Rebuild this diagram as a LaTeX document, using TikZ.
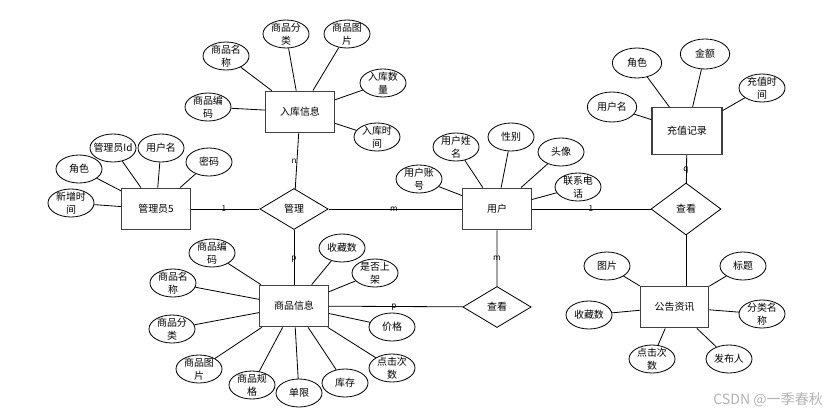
\documentclass[tikz,border=0pt]{standalone}
\usepackage{fontspec}
\setmainfont{Noto Sans CJK SC}
\usepackage{tikz}
\usetikzlibrary{shapes.geometric}

\begin{document}
\begin{tikzpicture}[
    x=0.03cm, y=-0.03cm,
    every node/.style={font=\fontsize{8.5}{11}\selectfont, align=center},
    entity/.style={rectangle, draw=black!75, line width=1pt, minimum width=2.05cm, minimum height=1.25cm, inner sep=0pt},
    relation/.style={diamond, draw, line width=0.7pt, minimum width=2.05cm, minimum height=1.23cm, inner sep=0pt},
    attr/.style={ellipse, draw, line width=0.7pt, minimum width=1.38cm, minimum height=0.84cm, inner sep=-4pt},
    bigattr/.style={attr, minimum width=1.48cm, minimum height=0.9cm},
    card/.style={font=\fontsize{7}{8}\selectfont, inner sep=0pt},
    link/.style={line width=0.7pt}
]
\useasboundingbox (0,0) rectangle (839,416);

\node[entity] (kucun) at (300,112) {入库信息};
\node[attr] (kname) at (226,56) {商品名\\称};
\node[attr] (kcat) at (286,34) {商品分\\类};
\node[attr] (kpic) at (347,34) {商品图\\片};
\node[attr] (knum) at (383,83) {入库数\\量};
\node[attr] (kcode) at (208,107) {商品编\\码};
\node[attr] (ktime) at (377,137) {入库时\\间};

\node[entity] (adm) at (156,209) {管理员5};
\node[attr] (aid) at (113,148) {管理员Id};
\node[attr] (aname) at (161,148) {用户名};
\node[attr] (apwd) at (209,162) {密码};
\node[attr] (arole) at (79,169) {角色};
\node[attr] (atime) at (71,203) {新增时\\间};

\node[relation] (mg) at (294,209) {管理};

\node[entity] (usr) at (497,209) {用户};
\node[attr] (uacc) at (419,179) {用户账\\号};
\node[attr] (uname) at (456,147) {用户姓\\名};
\node[attr] (usex) at (511,137) {性别};
\node[attr] (uhead) at (561,152) {头像};
\node[attr] (utel) at (578,187) {联系电\\话};

\node[relation, minimum width=2.1cm, minimum height=1.56cm] (look1) at (686,209) {查看};

\node[entity, minimum width=2.1cm, minimum height=1.41cm] (charge) at (687,131) {充值记录};
\node[bigattr] (cname) at (612,107) {用户名};
\node[bigattr] (crole) at (637,63) {角色};
\node[bigattr] (cmoney) at (705,54) {金额};
\node[attr] (ctime) at (762,88) {充值时\\间};

\node[entity] (notice) at (674.5,307) {公告资讯};
\node[attr] (npic) at (607,266) {图片};
\node[attr] (ntitle) at (743,266) {标题};
\node[attr] (nfav) at (589,315) {收藏数};
\node[attr] (ncat) at (762,314) {分类名\\称};
\node[attr] (nclick) at (652,359) {点击次\\数};
\node[attr] (nauth) at (729,359) {发布人};

\node[entity] (goods) at (294,306) {商品信息};
\node[attr] (gcode) at (212,253) {商品编\\码};
\node[attr] (gname) at (173,283) {商品名\\称};
\node[attr] (gcat) at (172,329) {商品分\\类};
\node[attr] (gpic) at (199,369) {商品图\\片};
\node[attr] (gspec) at (252,385) {商品规\\格};
\node[attr] (glim) at (299,393) {单限};
\node[attr] (gstock) at (345,383) {库存};
\node[attr] (gclick) at (392,368) {点击次\\数};
\node[attr] (gprice) at (392,327) {价格};
\node[attr] (gshelf) at (375,273) {是否上\\架};
\node[attr] (gfav) at (342,248) {收藏数};

\node[relation] (look2) at (497,307) {查看};

\foreach \a in {kname,kcat,kpic,knum,kcode,ktime}
    \draw[link] (kucun) -- (\a);
\foreach \a in {aid,aname,apwd,arole,atime}
    \draw[link] (adm) -- (\a);
\foreach \a in {uacc,uname,usex,uhead,utel}
    \draw[link] (usr) -- (\a);
\foreach \a in {cname,crole,cmoney,ctime}
    \draw[link] (charge) -- (\a);
\foreach \a in {npic,ntitle,nfav,ncat,nclick,nauth}
    \draw[link] (notice) -- (\a);
\foreach \a in {gcode,gname,gcat,gpic,gspec,glim,gstock,gclick,gprice,gshelf,gfav}
    \draw[link] (goods) -- (\a);

\draw[link] (adm) -- (mg) -- (usr) -- (look1);
\draw[link] (mg) -- (kucun);
\draw[link] (mg) -- (goods);
\draw[link] (goods) -- (look2) -- (usr);
\draw[link] (look1) -- (charge);
\draw[link] (look1.south) -- (look1.south |- notice.north);

\node[card] (c1) at (294,161) {n};
\node[card] (c2) at (224,209) {1};
\node[card] (c3) at (394,209) {m};
\node[card] (c4) at (294,259) {p};
\node[card] (c5) at (394,307) {p};
\node[card] (c6) at (497,258) {m};
\node[card] (c7) at (591,209) {1};
\node[card] (c8) at (686,170) {q};

\node[text=black!30, font=\fontsize{12}{14}\selectfont, anchor=east] (mark) at (827,400) {CSDN @一季春秋};
\end{tikzpicture}
\end{document}
